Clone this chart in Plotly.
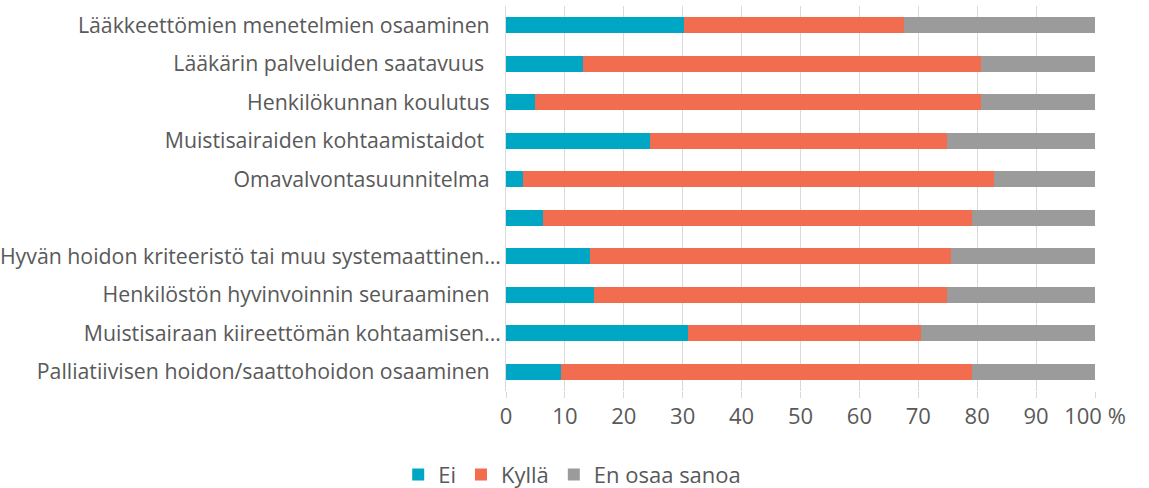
import plotly.graph_objects as go

NB = "\u00a0"
categories = [
    "Lääkkeettömien menetelmien osaaminen" + NB * 2,
    "Lääkärin palveluiden saatavuus" + NB * 3,
    "Henkilökunnan koulutus" + NB * 2,
    "Muistisairaiden kohtaamistaidot" + NB * 3,
    "Omavalvontasuunnitelma" + NB * 2,
    NB,
    "Hyvän hoidon kriteeristö tai muu systemaattinen…",
    "Henkilöstön hyvinvoinnin seuraaminen" + NB * 2,
    "Muistisairaan kiireettömän kohtaamisen…",
    "Palliatiivisen hoidon/saattohoidon osaaminen" + NB * 2,
]
ei = [30.2, 13.0, 5.0, 24.5, 2.9, 6.3, 14.3, 15.0, 30.9, 9.3]
kylla = [37.4, 67.6, 75.6, 50.3, 79.9, 72.8, 61.3, 59.8, 39.6, 69.8]
en_osaa = [32.4, 19.4, 19.4, 25.2, 17.2, 20.9, 24.4, 25.2, 29.5, 20.9]

tick_vals = [0, 10, 20, 30, 40, 50, 60, 70, 80, 90, 100]
tick_text = ["0", "10", "20", "30", "40", "50", "60", "70", "80", "90", "100 %"]

series = [
    ("Ei", ei, "#00A7C4"),
    ("Kyllä", kylla, "#F26D50"),
    ("En osaa sanoa", en_osaa, "#9B9B9B"),
]

fig = go.Figure()
for name, vals, color in series:
    fig.add_trace(go.Bar(
        y=categories, x=vals, name=name, orientation="h",
        marker=dict(color=color, line=dict(width=0)),
        hoverinfo="x+y+name",
    ))

font_family = "Open Sans, Noto Sans, sans-serif"
fig.update_layout(
    barmode="stack",
    bargap=0.58,
    width=1149, height=488,
    margin=dict(l=506, r=54, t=6, b=97, autoexpand=False),
    paper_bgcolor="white", plot_bgcolor="white",
    font=dict(family=font_family, size=22, color="#595959"),
    legend=dict(
        orientation="h", xref="container", yref="container",
        x=0.498, xanchor="center", y=0.027, yanchor="middle",
        font=dict(size=22, color="#595959"),
        itemwidth=30, traceorder="normal",
    ),
    xaxis=dict(
        range=[0, 100], tickvals=tick_vals, ticktext=tick_text,
        showgrid=True, gridcolor="#D9D9D9", gridwidth=1,
        zeroline=False, showline=False, automargin=False,
        ticks="outside", ticklen=6, tickcolor="#D9D9D9",
        tickfont=dict(size=22, color="#595959"),
    ),
    yaxis=dict(
        autorange="reversed", showgrid=False, zeroline=False,
        showline=True, linecolor="#D9D9D9", automargin=False,
        tickfont=dict(size=21.3, color="#595959"),
        ticklabelstandoff=0,
    ),
)

fig.write_html(
    "out.html",
    config={"displayModeBar": False},
    post_script="document.body.style.margin='0';",
)
